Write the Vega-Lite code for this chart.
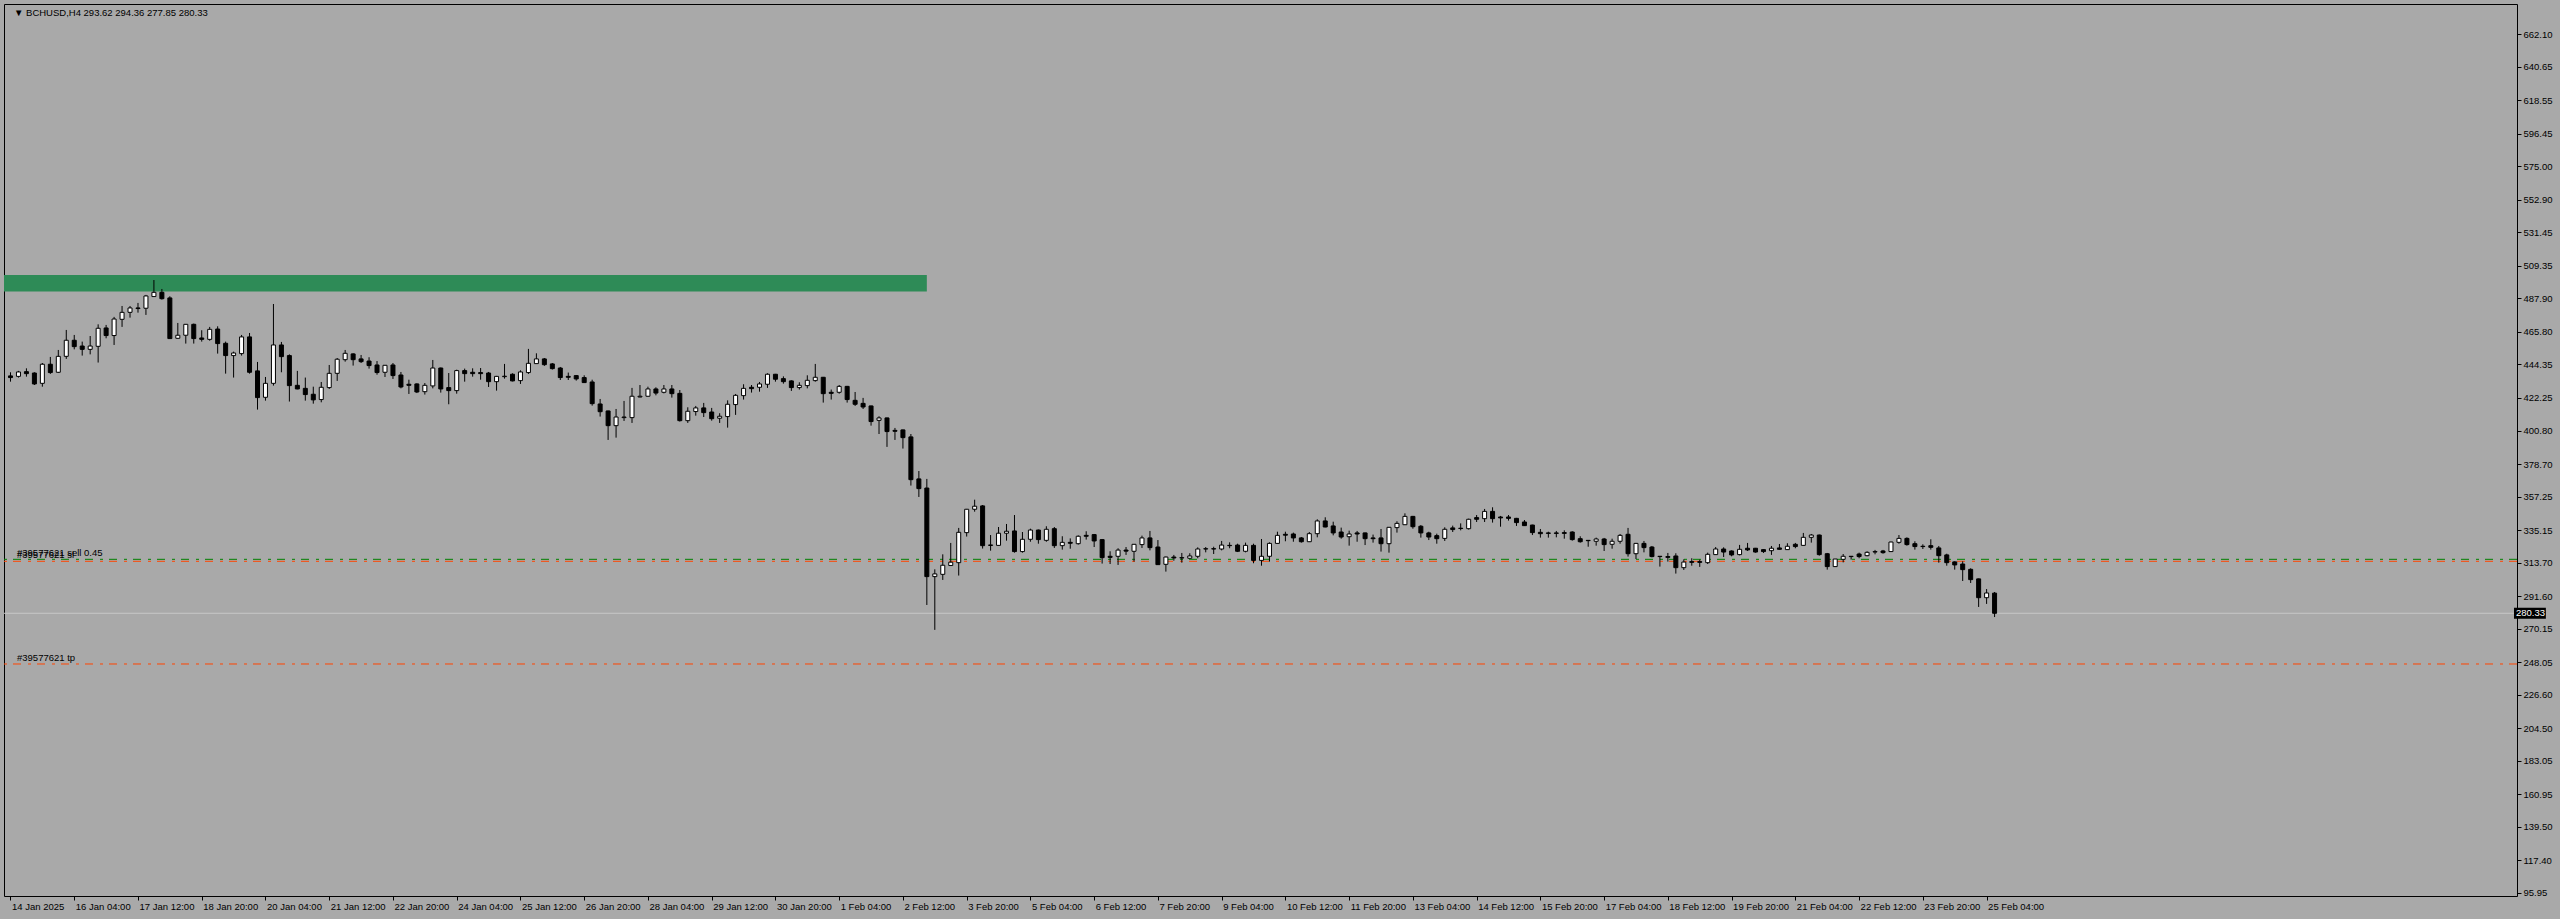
{
"$schema": "https://vega.github.io/schema/vega-lite/v6.json",
"width": 2513, "height": 892,
"autosize": {"type": "none"},
"padding": {"left": 4, "top": 4, "right": 43, "bottom": 23},
"background": "#A9A9A9",
"config": {
 "view": {"stroke": "#000000", "strokeWidth": 1},
 "axis": {"labelFont": "Liberation Sans", "labelFontSize": 9.5, "labelColor": "#000000", "tickColor": "#000000", "domain": false, "grid": false},
 "text": {"font": "Liberation Sans", "fontSize": 9.5}
},
"datasets": {
 "levels": [
  {"name": "sell", "price": 315.9, "label": "#39577621 sell 0.45"},
  {"name": "sl", "price": 314.6, "label": "#39577621 sl"},
  {"name": "tp", "price": 246.9, "label": "#39577621 tp"}
 ],
 "candles": [
{"t":"2025-01-14T20:00:00Z","o":436.8,"h":439.2,"l":433.0,"c":435.7},
{"t":"2025-01-15T00:00:00Z","o":436.5,"h":440.1,"l":435.7,"c":439.4},
{"t":"2025-01-15T04:00:00Z","o":439.6,"h":441.8,"l":436.3,"c":438.3},
{"t":"2025-01-15T08:00:00Z","o":438.7,"h":439.2,"l":430.8,"c":431.5},
{"t":"2025-01-15T12:00:00Z","o":431.9,"h":445.3,"l":429.7,"c":444.5},
{"t":"2025-01-15T16:00:00Z","o":444.5,"h":449.3,"l":438.1,"c":439.0},
{"t":"2025-01-15T20:00:00Z","o":439.2,"h":453.9,"l":438.8,"c":449.7},
{"t":"2025-01-16T00:00:00Z","o":449.7,"h":467.1,"l":448.0,"c":460.3},
{"t":"2025-01-16T04:00:00Z","o":460.3,"h":463.8,"l":454.3,"c":456.1},
{"t":"2025-01-16T08:00:00Z","o":456.5,"h":459.4,"l":450.2,"c":454.3},
{"t":"2025-01-16T12:00:00Z","o":454.3,"h":463.1,"l":451.0,"c":456.5},
{"t":"2025-01-16T16:00:00Z","o":456.3,"h":470.8,"l":445.6,"c":468.2},
{"t":"2025-01-16T20:00:00Z","o":468.4,"h":470.4,"l":461.6,"c":463.4},
{"t":"2025-01-17T00:00:00Z","o":463.4,"h":475.7,"l":457.2,"c":474.3},
{"t":"2025-01-17T04:00:00Z","o":474.1,"h":482.9,"l":469.1,"c":478.7},
{"t":"2025-01-17T08:00:00Z","o":478.7,"h":482.9,"l":475.2,"c":481.6},
{"t":"2025-01-17T12:00:00Z","o":481.6,"h":484.9,"l":478.5,"c":481.2},
{"t":"2025-01-17T16:00:00Z","o":481.4,"h":490.2,"l":477.0,"c":489.5},
{"t":"2025-01-17T20:00:00Z","o":489.1,"h":500.0,"l":489.0,"c":491.9},
{"t":"2025-01-18T00:00:00Z","o":491.9,"h":494.1,"l":487.1,"c":487.7},
{"t":"2025-01-18T04:00:00Z","o":488.2,"h":489.3,"l":461.2,"c":461.4},
{"t":"2025-01-18T08:00:00Z","o":461.6,"h":471.7,"l":461.2,"c":463.6},
{"t":"2025-01-18T12:00:00Z","o":463.6,"h":471.0,"l":458.1,"c":470.8},
{"t":"2025-01-18T16:00:00Z","o":470.8,"h":471.3,"l":458.1,"c":461.4},
{"t":"2025-01-18T20:00:00Z","o":461.8,"h":466.9,"l":459.4,"c":460.9},
{"t":"2025-01-19T00:00:00Z","o":460.9,"h":469.1,"l":460.0,"c":467.5},
{"t":"2025-01-19T04:00:00Z","o":467.7,"h":469.5,"l":451.5,"c":458.1},
{"t":"2025-01-19T08:00:00Z","o":458.3,"h":459.4,"l":438.3,"c":450.2},
{"t":"2025-01-19T12:00:00Z","o":450.2,"h":452.8,"l":435.7,"c":451.9},
{"t":"2025-01-19T16:00:00Z","o":451.5,"h":463.8,"l":450.2,"c":462.5},
{"t":"2025-01-19T20:00:00Z","o":462.5,"h":465.1,"l":438.3,"c":439.2},
{"t":"2025-01-20T00:00:00Z","o":440.1,"h":446.0,"l":414.6,"c":422.5},
{"t":"2025-01-20T04:00:00Z","o":422.7,"h":436.1,"l":420.5,"c":431.9},
{"t":"2025-01-20T08:00:00Z","o":431.9,"h":484.2,"l":430.4,"c":457.2},
{"t":"2025-01-20T12:00:00Z","o":457.2,"h":459.2,"l":439.2,"c":449.5},
{"t":"2025-01-20T16:00:00Z","o":450.2,"h":451.0,"l":419.9,"c":430.4},
{"t":"2025-01-20T20:00:00Z","o":430.6,"h":440.1,"l":428.0,"c":428.2},
{"t":"2025-01-21T00:00:00Z","o":428.6,"h":435.7,"l":420.5,"c":424.5},
{"t":"2025-01-21T04:00:00Z","o":424.7,"h":429.7,"l":418.5,"c":421.0},
{"t":"2025-01-21T08:00:00Z","o":421.2,"h":432.8,"l":419.4,"c":429.3},
{"t":"2025-01-21T12:00:00Z","o":429.1,"h":444.0,"l":428.2,"c":438.5},
{"t":"2025-01-21T16:00:00Z","o":438.5,"h":448.6,"l":433.5,"c":447.8},
{"t":"2025-01-21T20:00:00Z","o":447.5,"h":453.9,"l":446.2,"c":451.7},
{"t":"2025-01-22T00:00:00Z","o":451.3,"h":451.7,"l":443.6,"c":447.5},
{"t":"2025-01-22T04:00:00Z","o":448.0,"h":450.6,"l":445.3,"c":446.2},
{"t":"2025-01-22T08:00:00Z","o":446.6,"h":449.1,"l":441.6,"c":443.6},
{"t":"2025-01-22T12:00:00Z","o":444.0,"h":446.6,"l":437.6,"c":439.0},
{"t":"2025-01-22T16:00:00Z","o":439.2,"h":444.0,"l":436.1,"c":443.8},
{"t":"2025-01-22T20:00:00Z","o":444.0,"h":445.3,"l":434.8,"c":437.0},
{"t":"2025-01-23T00:00:00Z","o":437.4,"h":439.4,"l":428.6,"c":429.5},
{"t":"2025-01-23T04:00:00Z","o":431.3,"h":434.3,"l":424.9,"c":430.6},
{"t":"2025-01-23T08:00:00Z","o":431.5,"h":431.9,"l":425.5,"c":426.2},
{"t":"2025-01-23T12:00:00Z","o":426.4,"h":432.1,"l":424.5,"c":430.6},
{"t":"2025-01-23T16:00:00Z","o":430.2,"h":447.3,"l":428.6,"c":442.0},
{"t":"2025-01-23T20:00:00Z","o":442.0,"h":442.3,"l":425.8,"c":428.2},
{"t":"2025-01-24T00:00:00Z","o":429.1,"h":438.7,"l":418.1,"c":427.1},
{"t":"2025-01-24T04:00:00Z","o":427.1,"h":440.9,"l":425.1,"c":440.3},
{"t":"2025-01-24T08:00:00Z","o":440.3,"h":441.6,"l":433.0,"c":438.3},
{"t":"2025-01-24T12:00:00Z","o":439.2,"h":441.8,"l":436.3,"c":438.3},
{"t":"2025-01-24T16:00:00Z","o":439.0,"h":442.0,"l":434.3,"c":438.3},
{"t":"2025-01-24T20:00:00Z","o":438.7,"h":439.4,"l":429.5,"c":433.0},
{"t":"2025-01-25T00:00:00Z","o":433.0,"h":436.8,"l":427.1,"c":436.5},
{"t":"2025-01-25T04:00:00Z","o":436.3,"h":444.7,"l":435.0,"c":436.6},
{"t":"2025-01-25T08:00:00Z","o":437.9,"h":438.5,"l":433.2,"c":433.5},
{"t":"2025-01-25T12:00:00Z","o":433.7,"h":440.5,"l":431.5,"c":439.4},
{"t":"2025-01-25T16:00:00Z","o":439.0,"h":454.6,"l":438.1,"c":445.1},
{"t":"2025-01-25T20:00:00Z","o":444.9,"h":451.7,"l":444.9,"c":448.0},
{"t":"2025-01-26T00:00:00Z","o":448.0,"h":448.6,"l":443.4,"c":444.2},
{"t":"2025-01-26T04:00:00Z","o":444.7,"h":445.3,"l":441.0,"c":441.6},
{"t":"2025-01-26T08:00:00Z","o":442.0,"h":442.7,"l":434.1,"c":435.7},
{"t":"2025-01-26T12:00:00Z","o":436.5,"h":439.0,"l":434.1,"c":435.9},
{"t":"2025-01-26T16:00:00Z","o":437.0,"h":437.4,"l":433.7,"c":434.8},
{"t":"2025-01-26T20:00:00Z","o":435.7,"h":437.2,"l":432.4,"c":432.4},
{"t":"2025-01-27T00:00:00Z","o":432.8,"h":434.3,"l":417.2,"c":418.5},
{"t":"2025-01-27T04:00:00Z","o":418.3,"h":421.6,"l":410.0,"c":413.2},
{"t":"2025-01-27T08:00:00Z","o":413.7,"h":413.9,"l":394.6,"c":404.0},
{"t":"2025-01-27T12:00:00Z","o":404.0,"h":415.0,"l":396.1,"c":409.7},
{"t":"2025-01-27T16:00:00Z","o":409.3,"h":420.3,"l":407.1,"c":409.7},
{"t":"2025-01-27T20:00:00Z","o":409.3,"h":428.9,"l":405.8,"c":423.4},
{"t":"2025-01-28T00:00:00Z","o":422.9,"h":430.8,"l":422.7,"c":423.4},
{"t":"2025-01-28T04:00:00Z","o":423.4,"h":429.7,"l":423.1,"c":428.2},
{"t":"2025-01-28T08:00:00Z","o":428.2,"h":429.3,"l":424.0,"c":425.5},
{"t":"2025-01-28T12:00:00Z","o":426.0,"h":430.8,"l":425.3,"c":428.2},
{"t":"2025-01-28T16:00:00Z","o":428.2,"h":430.8,"l":422.5,"c":425.1},
{"t":"2025-01-28T20:00:00Z","o":425.3,"h":427.5,"l":406.7,"c":407.3},
{"t":"2025-01-29T00:00:00Z","o":407.3,"h":416.1,"l":405.8,"c":413.5},
{"t":"2025-01-29T04:00:00Z","o":413.3,"h":417.0,"l":410.6,"c":415.7},
{"t":"2025-01-29T08:00:00Z","o":415.7,"h":419.0,"l":409.7,"c":412.6},
{"t":"2025-01-29T12:00:00Z","o":413.0,"h":415.7,"l":407.3,"c":408.6},
{"t":"2025-01-29T16:00:00Z","o":408.9,"h":412.2,"l":405.8,"c":410.2},
{"t":"2025-01-29T20:00:00Z","o":410.0,"h":420.7,"l":402.7,"c":418.1},
{"t":"2025-01-30T00:00:00Z","o":417.9,"h":424.9,"l":411.1,"c":424.0},
{"t":"2025-01-30T04:00:00Z","o":423.8,"h":431.3,"l":421.2,"c":428.6},
{"t":"2025-01-30T08:00:00Z","o":429.3,"h":430.8,"l":425.8,"c":428.4},
{"t":"2025-01-30T12:00:00Z","o":429.3,"h":432.8,"l":426.4,"c":431.5},
{"t":"2025-01-30T16:00:00Z","o":431.3,"h":438.5,"l":428.9,"c":437.9},
{"t":"2025-01-30T20:00:00Z","o":437.9,"h":438.1,"l":433.0,"c":434.6},
{"t":"2025-01-31T00:00:00Z","o":435.0,"h":436.5,"l":431.7,"c":433.0},
{"t":"2025-01-31T04:00:00Z","o":433.5,"h":433.9,"l":426.9,"c":429.1},
{"t":"2025-01-31T08:00:00Z","o":429.1,"h":432.6,"l":427.8,"c":430.6},
{"t":"2025-01-31T12:00:00Z","o":430.4,"h":437.2,"l":428.6,"c":433.9},
{"t":"2025-01-31T16:00:00Z","o":433.7,"h":444.7,"l":433.0,"c":435.9},
{"t":"2025-01-31T20:00:00Z","o":435.9,"h":436.1,"l":419.2,"c":425.1},
{"t":"2025-02-01T00:00:00Z","o":426.0,"h":427.8,"l":421.2,"c":425.3},
{"t":"2025-02-01T04:00:00Z","o":426.0,"h":430.8,"l":425.1,"c":429.9},
{"t":"2025-02-01T08:00:00Z","o":429.9,"h":430.2,"l":419.2,"c":421.2},
{"t":"2025-02-01T12:00:00Z","o":420.7,"h":426.2,"l":417.0,"c":418.1},
{"t":"2025-02-01T16:00:00Z","o":418.7,"h":422.3,"l":415.0,"c":416.3},
{"t":"2025-02-01T20:00:00Z","o":417.0,"h":417.2,"l":404.0,"c":406.7},
{"t":"2025-02-02T00:00:00Z","o":407.5,"h":410.2,"l":398.5,"c":409.1},
{"t":"2025-02-02T04:00:00Z","o":409.1,"h":409.3,"l":390.0,"c":400.1},
{"t":"2025-02-02T08:00:00Z","o":400.9,"h":402.5,"l":394.6,"c":400.3},
{"t":"2025-02-02T12:00:00Z","o":401.2,"h":401.4,"l":388.9,"c":396.1},
{"t":"2025-02-02T16:00:00Z","o":396.6,"h":398.5,"l":364.5,"c":368.4},
{"t":"2025-02-02T20:00:00Z","o":368.9,"h":374.1,"l":357.0,"c":362.5},
{"t":"2025-02-03T00:00:00Z","o":362.9,"h":368.9,"l":285.8,"c":304.5},
{"t":"2025-02-03T04:00:00Z","o":304.5,"h":309.3,"l":269.4,"c":306.3},
{"t":"2025-02-03T08:00:00Z","o":306.0,"h":319.2,"l":302.3,"c":312.0},
{"t":"2025-02-03T12:00:00Z","o":311.8,"h":326.7,"l":311.8,"c":314.0},
{"t":"2025-02-03T16:00:00Z","o":313.7,"h":336.6,"l":305.2,"c":333.7},
{"t":"2025-02-03T20:00:00Z","o":333.5,"h":349.1,"l":330.9,"c":348.9},
{"t":"2025-02-04T00:00:00Z","o":348.9,"h":355.2,"l":347.3,"c":350.9},
{"t":"2025-02-04T04:00:00Z","o":351.1,"h":351.7,"l":323.0,"c":324.9},
{"t":"2025-02-04T08:00:00Z","o":325.0,"h":331.9,"l":321.6,"c":325.4},
{"t":"2025-02-04T12:00:00Z","o":325.1,"h":337.2,"l":324.9,"c":333.1},
{"t":"2025-02-04T16:00:00Z","o":333.1,"h":339.2,"l":328.2,"c":334.4},
{"t":"2025-02-04T20:00:00Z","o":334.6,"h":345.1,"l":320.3,"c":321.0},
{"t":"2025-02-05T00:00:00Z","o":321.0,"h":333.9,"l":320.3,"c":329.1},
{"t":"2025-02-05T04:00:00Z","o":329.1,"h":336.1,"l":327.5,"c":335.2},
{"t":"2025-02-05T08:00:00Z","o":335.2,"h":335.5,"l":326.2,"c":328.9},
{"t":"2025-02-05T12:00:00Z","o":328.4,"h":337.7,"l":327.5,"c":335.7},
{"t":"2025-02-05T16:00:00Z","o":336.1,"h":337.2,"l":323.4,"c":324.9},
{"t":"2025-02-05T20:00:00Z","o":324.9,"h":331.1,"l":322.3,"c":327.1},
{"t":"2025-02-06T00:00:00Z","o":327.1,"h":329.7,"l":322.9,"c":326.5},
{"t":"2025-02-06T04:00:00Z","o":326.2,"h":331.7,"l":325.6,"c":331.1},
{"t":"2025-02-06T08:00:00Z","o":331.7,"h":334.4,"l":328.9,"c":331.1},
{"t":"2025-02-06T12:00:00Z","o":332.2,"h":332.6,"l":324.0,"c":328.0},
{"t":"2025-02-06T16:00:00Z","o":328.9,"h":329.3,"l":313.1,"c":317.0},
{"t":"2025-02-06T20:00:00Z","o":317.9,"h":321.2,"l":312.8,"c":317.2},
{"t":"2025-02-07T00:00:00Z","o":317.9,"h":323.2,"l":312.2,"c":322.0},
{"t":"2025-02-07T04:00:00Z","o":322.0,"h":324.0,"l":318.8,"c":321.3},
{"t":"2025-02-07T08:00:00Z","o":321.2,"h":326.0,"l":314.4,"c":325.8},
{"t":"2025-02-07T12:00:00Z","o":325.6,"h":331.5,"l":323.4,"c":330.0},
{"t":"2025-02-07T16:00:00Z","o":330.0,"h":334.6,"l":321.8,"c":323.6},
{"t":"2025-02-07T20:00:00Z","o":324.0,"h":328.6,"l":312.2,"c":312.4},
{"t":"2025-02-08T00:00:00Z","o":312.6,"h":317.7,"l":307.8,"c":317.4},
{"t":"2025-02-08T04:00:00Z","o":317.4,"h":318.8,"l":315.0,"c":316.8},
{"t":"2025-02-08T08:00:00Z","o":316.8,"h":320.1,"l":313.7,"c":317.0},
{"t":"2025-02-08T12:00:00Z","o":316.6,"h":319.9,"l":316.3,"c":318.1},
{"t":"2025-02-08T16:00:00Z","o":317.9,"h":323.8,"l":316.6,"c":322.7},
{"t":"2025-02-08T20:00:00Z","o":322.7,"h":324.0,"l":320.5,"c":322.9},
{"t":"2025-02-09T00:00:00Z","o":322.9,"h":324.2,"l":319.4,"c":322.7},
{"t":"2025-02-09T04:00:00Z","o":322.7,"h":328.0,"l":321.8,"c":325.3},
{"t":"2025-02-09T08:00:00Z","o":325.1,"h":327.1,"l":323.2,"c":324.9},
{"t":"2025-02-09T12:00:00Z","o":325.3,"h":326.2,"l":320.7,"c":321.2},
{"t":"2025-02-09T16:00:00Z","o":321.2,"h":326.9,"l":320.5,"c":325.1},
{"t":"2025-02-09T20:00:00Z","o":325.1,"h":326.2,"l":313.3,"c":315.2},
{"t":"2025-02-10T00:00:00Z","o":315.2,"h":329.3,"l":311.7,"c":317.9},
{"t":"2025-02-10T04:00:00Z","o":317.9,"h":327.1,"l":314.4,"c":326.4},
{"t":"2025-02-10T08:00:00Z","o":326.4,"h":334.1,"l":326.2,"c":331.7},
{"t":"2025-02-10T12:00:00Z","o":332.4,"h":334.1,"l":327.8,"c":331.8},
{"t":"2025-02-10T16:00:00Z","o":332.6,"h":333.5,"l":327.5,"c":330.0},
{"t":"2025-02-10T20:00:00Z","o":330.0,"h":330.6,"l":326.9,"c":327.5},
{"t":"2025-02-11T00:00:00Z","o":327.5,"h":333.9,"l":327.3,"c":332.8},
{"t":"2025-02-11T04:00:00Z","o":332.8,"h":342.3,"l":330.4,"c":341.2},
{"t":"2025-02-11T08:00:00Z","o":341.2,"h":343.6,"l":337.0,"c":337.2},
{"t":"2025-02-11T12:00:00Z","o":337.9,"h":340.7,"l":331.7,"c":333.3},
{"t":"2025-02-11T16:00:00Z","o":333.9,"h":336.8,"l":329.5,"c":330.6},
{"t":"2025-02-11T20:00:00Z","o":330.8,"h":334.8,"l":324.9,"c":332.6},
{"t":"2025-02-12T00:00:00Z","o":333.3,"h":334.6,"l":327.5,"c":332.6},
{"t":"2025-02-12T04:00:00Z","o":333.3,"h":333.5,"l":325.3,"c":329.5},
{"t":"2025-02-12T08:00:00Z","o":330.0,"h":332.2,"l":326.9,"c":329.5},
{"t":"2025-02-12T12:00:00Z","o":330.0,"h":335.9,"l":321.0,"c":326.2},
{"t":"2025-02-12T16:00:00Z","o":326.2,"h":337.2,"l":320.3,"c":337.0},
{"t":"2025-02-12T20:00:00Z","o":336.8,"h":341.0,"l":333.5,"c":339.6},
{"t":"2025-02-13T00:00:00Z","o":338.7,"h":346.2,"l":338.7,"c":344.2},
{"t":"2025-02-13T04:00:00Z","o":344.2,"h":344.5,"l":336.1,"c":337.4},
{"t":"2025-02-13T08:00:00Z","o":337.7,"h":338.5,"l":330.2,"c":333.3},
{"t":"2025-02-13T12:00:00Z","o":333.3,"h":334.1,"l":328.6,"c":330.6},
{"t":"2025-02-13T16:00:00Z","o":331.5,"h":332.8,"l":326.2,"c":329.5},
{"t":"2025-02-13T20:00:00Z","o":329.7,"h":337.0,"l":328.0,"c":335.7},
{"t":"2025-02-14T00:00:00Z","o":336.6,"h":338.1,"l":333.9,"c":335.5},
{"t":"2025-02-14T04:00:00Z","o":336.4,"h":339.6,"l":335.0,"c":336.2},
{"t":"2025-02-14T08:00:00Z","o":336.1,"h":342.7,"l":335.5,"c":342.3},
{"t":"2025-02-14T12:00:00Z","o":343.4,"h":345.1,"l":340.5,"c":342.3},
{"t":"2025-02-14T16:00:00Z","o":342.7,"h":349.1,"l":340.5,"c":347.5},
{"t":"2025-02-14T20:00:00Z","o":347.5,"h":350.2,"l":340.1,"c":342.7},
{"t":"2025-02-15T00:00:00Z","o":343.8,"h":344.5,"l":337.4,"c":343.2},
{"t":"2025-02-15T04:00:00Z","o":343.8,"h":345.1,"l":341.4,"c":342.9},
{"t":"2025-02-15T08:00:00Z","o":342.9,"h":343.2,"l":337.9,"c":340.1},
{"t":"2025-02-15T12:00:00Z","o":340.5,"h":341.8,"l":337.9,"c":338.1},
{"t":"2025-02-15T16:00:00Z","o":338.5,"h":338.7,"l":331.9,"c":333.5},
{"t":"2025-02-15T20:00:00Z","o":333.7,"h":335.9,"l":330.2,"c":332.8},
{"t":"2025-02-16T00:00:00Z","o":333.3,"h":334.1,"l":330.2,"c":333.0},
{"t":"2025-02-16T04:00:00Z","o":333.3,"h":334.6,"l":330.4,"c":333.0},
{"t":"2025-02-16T08:00:00Z","o":333.5,"h":335.0,"l":329.5,"c":333.0},
{"t":"2025-02-16T12:00:00Z","o":333.9,"h":334.4,"l":328.2,"c":328.9},
{"t":"2025-02-16T16:00:00Z","o":329.5,"h":331.1,"l":326.9,"c":327.5},
{"t":"2025-02-16T20:00:00Z","o":328.4,"h":328.6,"l":324.2,"c":328.2},
{"t":"2025-02-17T00:00:00Z","o":327.8,"h":330.2,"l":324.9,"c":329.3},
{"t":"2025-02-17T04:00:00Z","o":329.3,"h":330.0,"l":321.4,"c":325.6},
{"t":"2025-02-17T08:00:00Z","o":325.8,"h":329.5,"l":322.9,"c":327.8},
{"t":"2025-02-17T12:00:00Z","o":327.8,"h":332.6,"l":326.2,"c":331.7},
{"t":"2025-02-17T16:00:00Z","o":332.4,"h":336.6,"l":317.7,"c":319.6},
{"t":"2025-02-17T20:00:00Z","o":319.6,"h":326.7,"l":316.1,"c":326.4},
{"t":"2025-02-18T00:00:00Z","o":326.4,"h":328.0,"l":320.5,"c":323.6},
{"t":"2025-02-18T04:00:00Z","o":324.0,"h":324.7,"l":317.2,"c":317.7},
{"t":"2025-02-18T08:00:00Z","o":317.9,"h":317.9,"l":311.1,"c":317.7},
{"t":"2025-02-18T12:00:00Z","o":317.7,"h":320.1,"l":314.4,"c":317.2},
{"t":"2025-02-18T16:00:00Z","o":318.1,"h":319.9,"l":306.5,"c":310.4},
{"t":"2025-02-18T20:00:00Z","o":310.4,"h":315.9,"l":308.9,"c":314.1},
{"t":"2025-02-19T00:00:00Z","o":314.4,"h":316.6,"l":311.7,"c":313.9},
{"t":"2025-02-19T04:00:00Z","o":314.4,"h":315.7,"l":310.9,"c":313.9},
{"t":"2025-02-19T08:00:00Z","o":313.7,"h":320.3,"l":312.8,"c":319.2},
{"t":"2025-02-19T12:00:00Z","o":319.0,"h":324.0,"l":319.0,"c":322.7},
{"t":"2025-02-19T16:00:00Z","o":322.7,"h":323.8,"l":317.4,"c":320.7},
{"t":"2025-02-19T20:00:00Z","o":321.4,"h":321.8,"l":317.9,"c":318.8},
{"t":"2025-02-20T00:00:00Z","o":319.0,"h":325.4,"l":318.5,"c":322.5},
{"t":"2025-02-20T04:00:00Z","o":323.2,"h":326.7,"l":321.4,"c":322.1},
{"t":"2025-02-20T08:00:00Z","o":323.2,"h":323.4,"l":320.3,"c":320.7},
{"t":"2025-02-20T12:00:00Z","o":322.3,"h":322.7,"l":320.1,"c":321.0},
{"t":"2025-02-20T16:00:00Z","o":321.6,"h":324.7,"l":318.8,"c":323.2},
{"t":"2025-02-20T20:00:00Z","o":323.4,"h":326.0,"l":322.3,"c":322.5},
{"t":"2025-02-21T00:00:00Z","o":322.3,"h":326.5,"l":322.3,"c":324.5},
{"t":"2025-02-21T04:00:00Z","o":325.8,"h":326.7,"l":323.2,"c":324.3},
{"t":"2025-02-21T08:00:00Z","o":325.1,"h":333.3,"l":324.9,"c":330.4},
{"t":"2025-02-21T12:00:00Z","o":330.4,"h":332.6,"l":326.9,"c":331.9},
{"t":"2025-02-21T16:00:00Z","o":331.9,"h":332.2,"l":318.3,"c":319.0},
{"t":"2025-02-21T20:00:00Z","o":319.6,"h":320.1,"l":309.1,"c":311.1},
{"t":"2025-02-22T00:00:00Z","o":311.1,"h":316.1,"l":311.1,"c":316.1},
{"t":"2025-02-22T04:00:00Z","o":315.9,"h":319.4,"l":313.9,"c":317.9},
{"t":"2025-02-22T08:00:00Z","o":317.7,"h":317.9,"l":315.7,"c":317.9},
{"t":"2025-02-22T12:00:00Z","o":319.4,"h":320.3,"l":316.6,"c":317.7},
{"t":"2025-02-22T16:00:00Z","o":318.3,"h":321.2,"l":317.9,"c":320.5},
{"t":"2025-02-22T20:00:00Z","o":320.7,"h":322.1,"l":319.2,"c":321.0},
{"t":"2025-02-23T00:00:00Z","o":321.4,"h":322.1,"l":319.6,"c":320.3},
{"t":"2025-02-23T04:00:00Z","o":321.0,"h":327.5,"l":320.7,"c":327.3},
{"t":"2025-02-23T08:00:00Z","o":327.1,"h":331.9,"l":326.2,"c":329.7},
{"t":"2025-02-23T12:00:00Z","o":329.7,"h":330.4,"l":324.9,"c":325.6},
{"t":"2025-02-23T16:00:00Z","o":326.2,"h":327.8,"l":322.3,"c":324.3},
{"t":"2025-02-23T20:00:00Z","o":324.5,"h":325.8,"l":322.7,"c":324.3},
{"t":"2025-02-24T00:00:00Z","o":324.9,"h":329.1,"l":322.3,"c":323.8},
{"t":"2025-02-24T04:00:00Z","o":323.4,"h":324.7,"l":313.7,"c":318.3},
{"t":"2025-02-24T08:00:00Z","o":318.8,"h":319.6,"l":311.7,"c":313.7},
{"t":"2025-02-24T12:00:00Z","o":314.2,"h":314.6,"l":309.1,"c":312.2},
{"t":"2025-02-24T16:00:00Z","o":312.8,"h":314.6,"l":301.6,"c":309.1},
{"t":"2025-02-24T20:00:00Z","o":309.3,"h":310.0,"l":300.3,"c":302.5},
{"t":"2025-02-25T00:00:00Z","o":303.0,"h":303.2,"l":284.5,"c":290.6},
{"t":"2025-02-25T04:00:00Z","o":290.6,"h":296.3,"l":286.5,"c":293.7},
{"t":"2025-02-25T08:00:00Z","o":293.62,"h":294.36,"l":277.85,"c":280.33}
 ]
},
"encoding": {
 "x": {"type": "temporal", "title": null,
  "scale": {"type": "utc", "domain": [1736882100000, 1741405500000], "nice": false},
  "axis": {"orient": "bottom", "title": null, "tickSize": 4, "labelPadding": 1, "labelAlign": "left", "labelOffset": 1, "labelBaseline": "top", "labelFlush": false, "labelOverlap": false, "labelBound": false,
   "values": [1736884800000,1737000000000,1737115200000,1737230400000,1737345600000,1737460800000,1737576000000,1737691200000,1737806400000,1737921600000,1738036800000,1738152000000,1738267200000,1738382400000,1738497600000,1738612800000,1738728000000,1738843200000,1738958400000,1739073600000,1739188800000,1739304000000,1739419200000,1739534400000,1739649600000,1739764800000,1739880000000,1739995200000,1740110400000,1740225600000,1740340800000,1740456000000],
   "labelExpr": "time(datum.value) < 1736884900000 ? '14 Jan 2025' : utcFormat(datum.value, '%-d %b %H:%M')"}},
 "y": {"type": "quantitative", "title": null,
  "scale": {"domain": [93.97, 681.95], "nice": false, "zero": false},
  "axis": {"orient": "right", "title": null, "tickSize": 4, "labelPadding": 2, "format": ".2f", "labelFlush": false, "labelOverlap": false, "labelBound": false, "labelBaseline": "middle",
   "values": [95.95,117.40,139.50,160.95,183.05,204.50,226.60,248.05,270.15,291.60,313.70,335.15,357.25,378.70,400.80,422.25,444.35,465.80,487.90,509.35,531.45,552.90,575.00,596.45,618.55,640.65,662.10]}}
},
"layer": [
 {
  "data": {"values": [{"t1": "2025-01-10T00:00:00Z", "t2": "2025-02-03T00:00:00Z", "p1": 492.4, "p2": 503.3}]},
  "mark": {"type": "rect", "color": "#2E8B57", "clip": true},
  "encoding": {
   "x": {"field": "t1"},
   "x2": {"field": "t2"},
   "y": {"field": "p1"},
   "y2": {"field": "p2"}
  }
 },
 {
  "data": {"name": "levels"},
  "mark": {"type": "rule", "strokeWidth": 1, "strokeDash": [8, 6, 3, 7]},
  "encoding": {
   "x": null,
   "y": {"field": "price"},
   "color": {"field": "name", "type": "nominal", "legend": null,
    "scale": {"domain": ["sell", "sl", "tp"], "range": ["#008000", "#FF4500", "#FF4500"]}}
  }
 },
 {
  "data": {"values": [{"bid": 280.33}]},
  "mark": {"type": "rule", "color": "#C8C8C8", "strokeWidth": 1},
  "encoding": {"x": null, "y": {"field": "bid"}}
 },
 {
  "data": {"name": "levels"},
  "mark": {"type": "text", "align": "left", "baseline": "alphabetic", "dx": 8, "dy": -3, "color": "#000000"},
  "encoding": {
   "x": {"datum": 1736882100000},
   "y": {"field": "price"},
   "text": {"field": "label"}
  }
 },
 {
  "data": {"name": "candles"},
  "mark": {"type": "rule", "color": "#000000", "strokeWidth": 1},
  "encoding": {
   "x": {"field": "t"},
   "y": {"field": "l"},
   "y2": {"field": "h"}
  }
 },
 {
  "data": {"name": "candles"},
  "mark": {"type": "bar", "width": 4, "stroke": "#000000", "strokeWidth": 1},
  "encoding": {
   "x": {"field": "t"},
   "y": {"field": "o"},
   "y2": {"field": "c"},
   "fill": {"condition": {"test": "datum.c >= datum.o", "value": "#FFFFFF"}, "value": "#000000"}
  }
 },
 {
  "data": {"values": [{"label": "▼ BCHUSD,H4  293.62 294.36 277.85 280.33"}]},
  "mark": {"type": "text", "align": "left", "baseline": "middle", "dx": 5, "dy": 9, "color": "#000000"},
  "encoding": {
   "x": {"datum": 1736882100000},
   "y": {"datum": 681.95},
   "text": {"field": "label"}
  }
 },
 {
  "data": {"values": [{"price": 280.33, "label": "280.33"}]},
  "mark": {"type": "rect", "color": "#000000"},
  "encoding": {
   "x": {"datum": 1741409100000},
   "x2": {"datum": 1741466700000},
   "y": {"datum": 276.7},
   "y2": {"datum": 284.0}
  }
 },
 {
  "data": {"values": [{"price": 280.33, "label": "280.33"}]},
  "mark": {"type": "text", "align": "left", "baseline": "middle", "dx": 2, "color": "#FFFFFF"},
  "encoding": {
   "x": {"datum": 1741409100000},
   "y": {"field": "price"},
   "text": {"field": "label"}
  }
 }
]
}
